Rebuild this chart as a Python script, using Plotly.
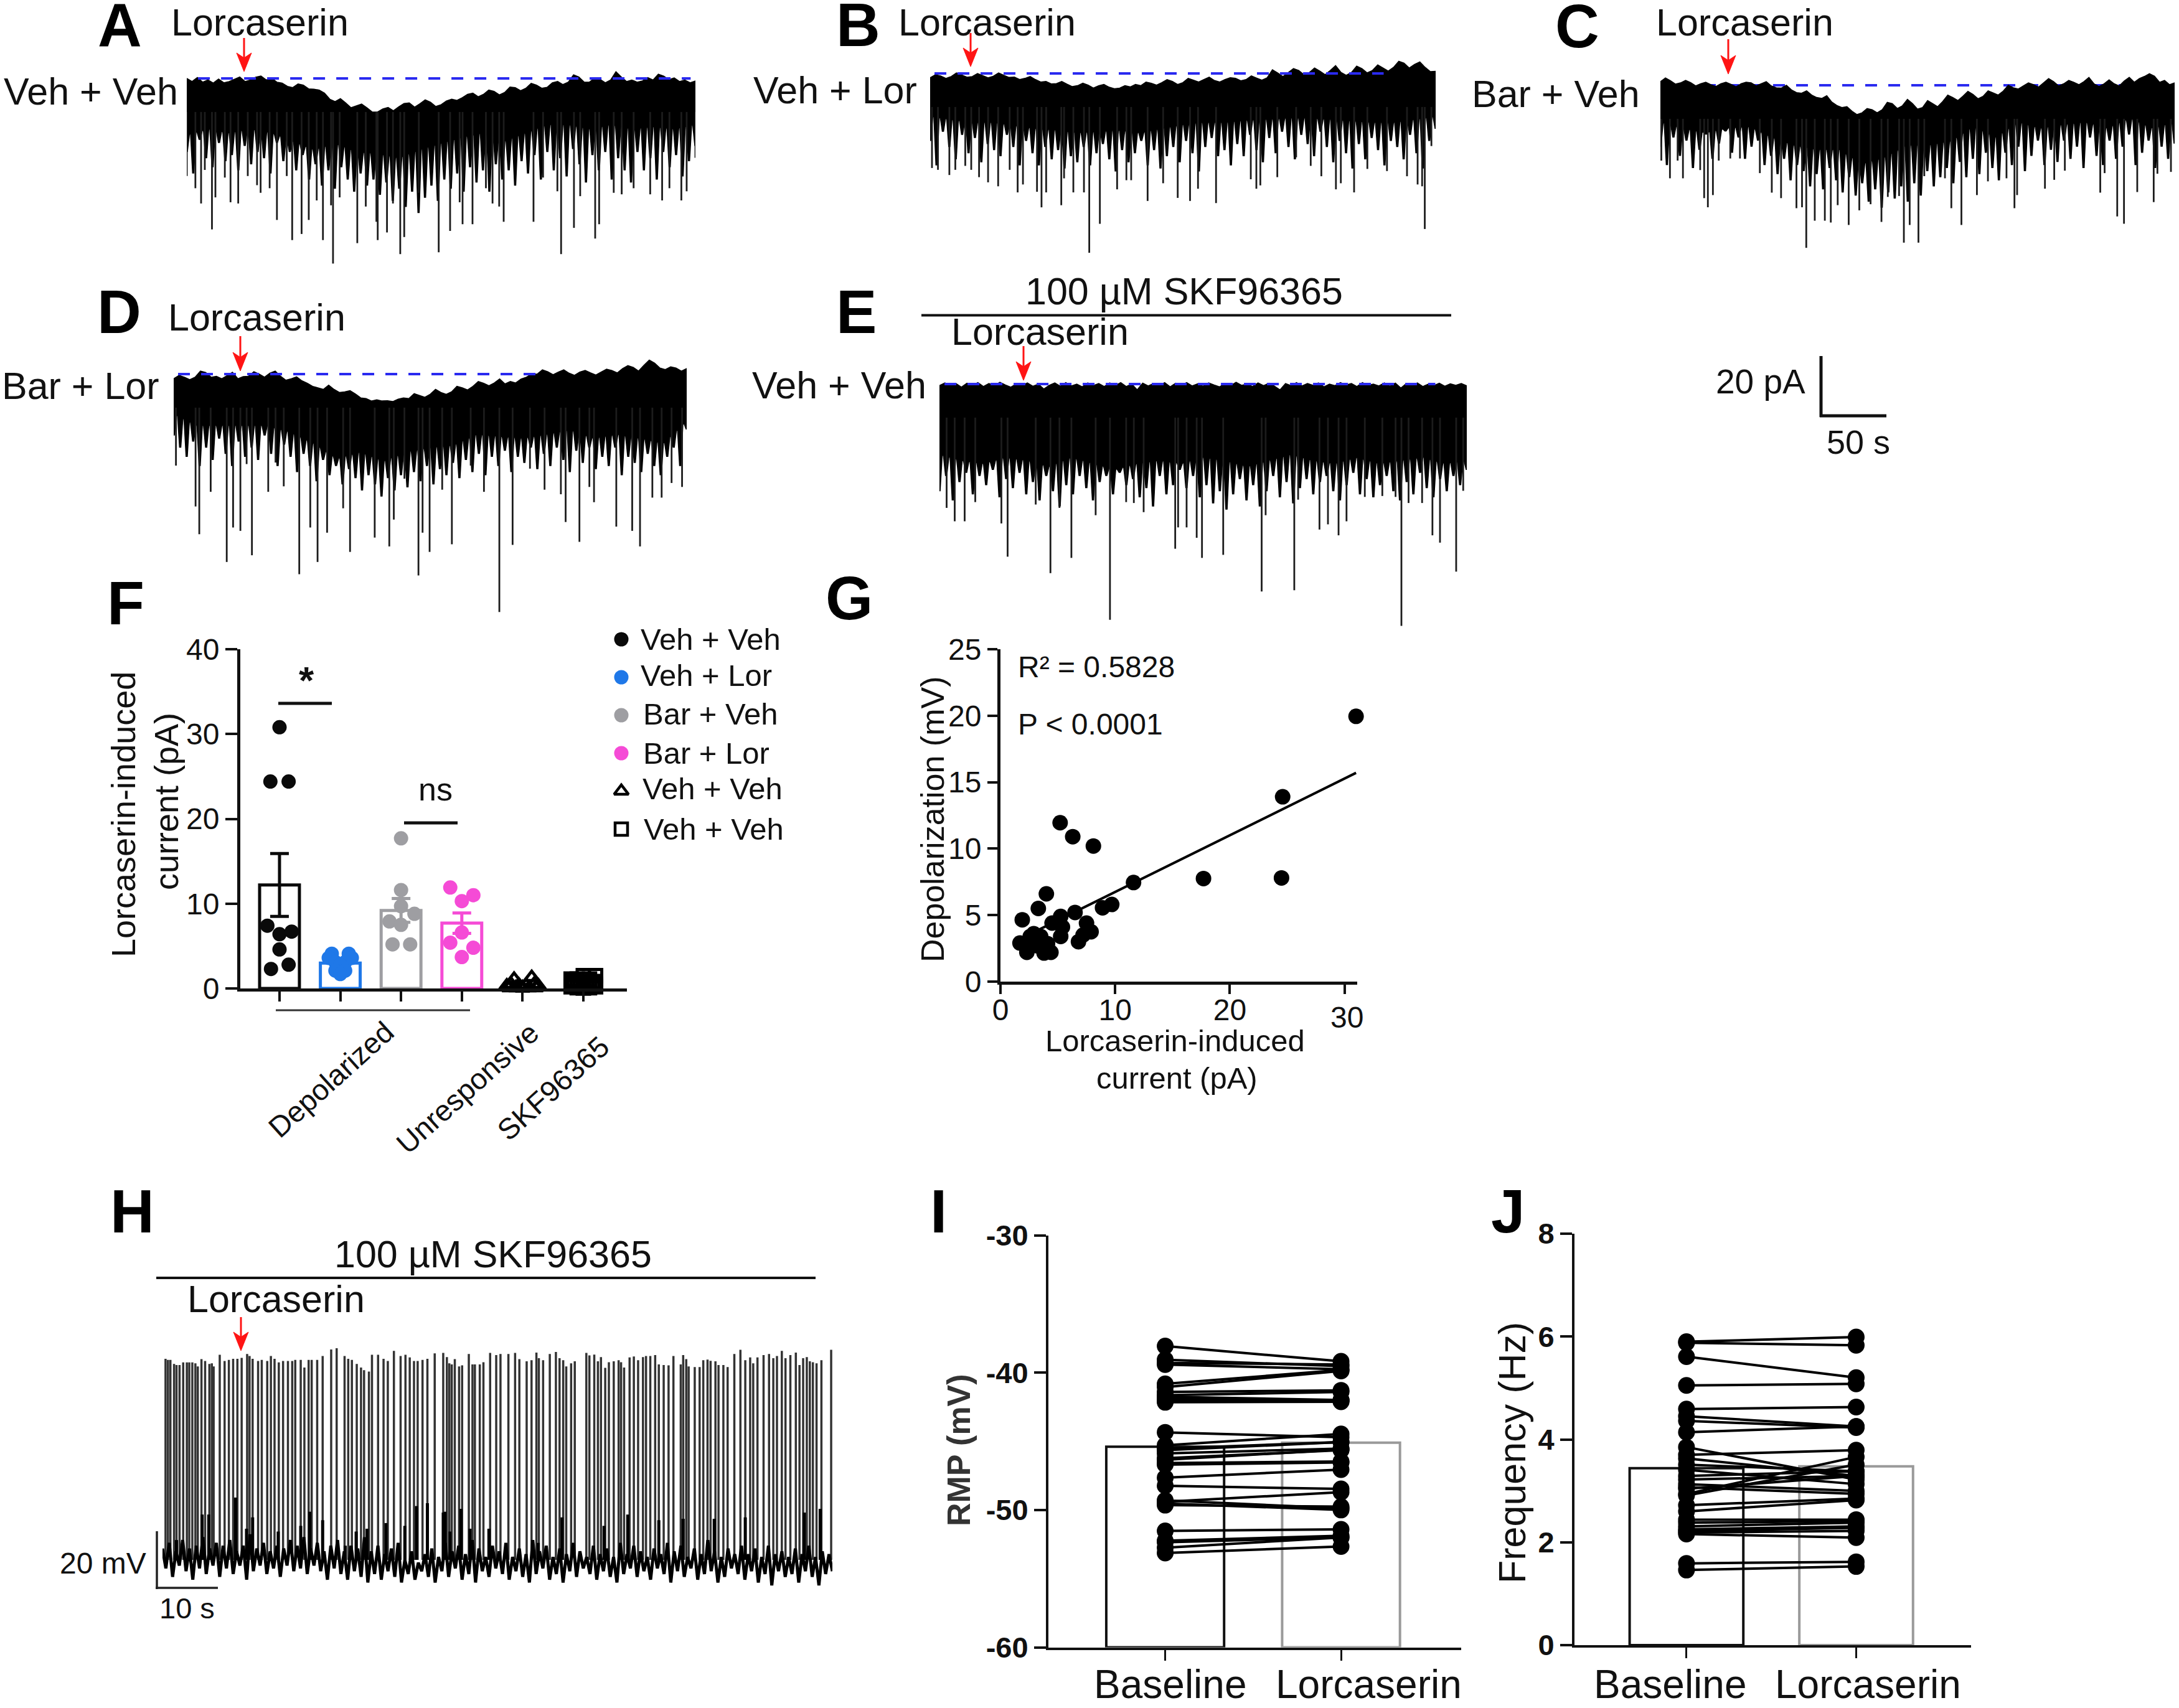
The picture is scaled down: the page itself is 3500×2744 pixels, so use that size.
import numpy as np
import plotly.graph_objects as go

W, H = 3500, 2744
FONT = "Liberation Sans, Arial, sans-serif"
BLACK = "#0a0a0a"
BLUE = "#1f78e8"
GRAY = "#9e9ea2"
PINK = "#f54bd6"
RED = "#ff1414"

# ---------- voltage-clamp traces: current in pA relative to the dashed baseline, time in s ----------
a_T = 383.6
a_upper = [0,-1,0.3,-1.2,-0.5,-1.5,-0.2,-1.4,-1,-0.2,0.5,-1,-0.5,0.4,0.8,-0.5,0.2,-1.2,-1.5,-2.6,-3,-1.8,-2.2,-3.4,-3.5,-3.8,-4.8,-6.8,-7.6,-6.6,-8,-9.6,-9,-8.4,-9.6,-11,-11,-10,-9.5,-10.6,-9.3,-8.2,-8,-9.4,-8.3,-7,-7.8,-9.2,-8.6,-7.4,-6.8,-7.2,-6.3,-5.2,-4.8,-6,-5.2,-3.8,-4.2,-5.4,-4.6,-2.8,-3,-4,-3.2,-1.6,-2.2,-3.2,-2.9,-1.4,-1,-2,-1.2,1.2,0.5,-1.2,-1.2,0.2,-0.3,-1.4,-0.5,2.2,0.5,-1,-0.5,-1.2,-0.8,0.3,-0.5,1.4,0.8,-0.4,0.2,-1,-0.5,-1.4,-0.8]
a_lower = [-18.5,-16.5,-17.8,-16.5,-17.8,-20.5,-23.3,-21.2,-24,-24.6,-26,-23.3,-21.2,-19.2,-17.8,-20.5,-17.8,-15.1,-15.1,-16.5,-15.1,-16.5,-15.8,-16.5,-15.1]
a_fringe = [-24,-31,-20,-26,-29,-21,-27,-25,-30,-22,-28,-24,-26,-31,-21,-27,-24,-30,-25,-33,-28,-35,-30,-36,-29,-33,-37,-31,-35,-33,-38,-34,-40,-36,-42,-37,-44,-39,-35,-40,-33,-36,-31,-37,-29,-34,-30,-37,-28,-33,-30,-35,-27,-31,-25,-33,-24,-30,-26,-32,-23,-28,-34,-25,-30,-24,-33,-26,-30,-34,-24,-30,-26,-33,-24,-29,-25,-32,-27,-22]
a_spike_t = [0,6.5,10.8,13.6,19,21.6,28.7,33,38.8,46,53,55.7,62.5,68,75.4,79.5,86.6,92,98,102.7,108.8,110.3,115.3,128.6,135,143,144,151,155.5,161,164,175,190,198.6,205.8,208,215.5,225.6,230.6,235.6,239,261.5,268.7,279.5,282.3,292,296.7,308,311,322,328,337,349.5,358.5,364,373,377,383.6]
a_spike_a = [-32,-36,-41,-30,-49.5,-39,-32.5,-40.6,-41,-32,-35,-37.5,-36,-46.4,-32,-53,-51,-46.4,-40,-53,-41.6,-60.7,-39,-54,-42,-47,-53,-50.5,-41,-57.6,-52,-37.5,-57,-50,-40.6,-47.8,-47.8,-36,-41,-42,-47,-47,-32.5,-37,-57.6,-49,-38.6,-52.5,-47.8,-37.5,-38,-36,-38,-40,-36,-40,-37,-26]

b_T = 381.2
b_upper = [-1.4,-0.4,-0.8,-1.6,-1,0.2,-0.5,-1.2,-1,0,-0.7,-1.4,-0.9,0.2,-0.6,-1.3,-1.2,-2,-1.6,-1,-2,-2.8,-2.6,-3.4,-3.3,-2.6,-3.5,-4.3,-4,-3.2,-3.8,-4.8,-4,-3.6,-4.5,-5,-4.8,-4,-4.4,-3.6,-4,-2.8,-3.2,-3.8,-3,-2,-2.6,-3.6,-3,-1.6,-2.2,-2.8,-2,-1.2,-2.3,-2.8,-2,-1.4,-1.6,-2.4,-2,-0.8,-1.5,-2.2,-1.4,1.2,0.2,-1,0.3,1.6,1,-0.4,0.3,1.8,0.8,-0.4,1,2.6,0.4,-0.6,0.3,2.4,1.6,0.2,1,2.8,1.8,0.8,2,4,3.4,1.8,3,3.8,2,0.6,0.7]
b_lower = [-14,-15,-16,-16,-17,-18,-18.5,-19.4,-19,-18.6,-19.4,-18,-16.7,-16,-16,-15.3,-15,-14.6,-14.6,-15,-15.5,-16,-16,-15,-14]
b_fringe = [-22,-30,-19,-24,-28,-20,-26,-21,-29,-23,-25,-27,-20,-24,-30,-22,-26,-30,-24,-28,-25,-31,-27,-29,-24,-30,-26,-23,-28,-32,-25,-29,-26,-22,-30,-25,-31,-27,-24,-29,-22,-26,-32,-24,-21,-27,-25,-30,-23,-27,-20,-25,-29,-21,-26,-19,-24,-28,-20,-23,-27,-19,-24,-29,-22,-26,-31,-23,-28,-21,-25,-30,-22,-24,-28,-20,-26,-31,-22,-18]
b_spike_t = [1.4,5.9,14.5,19,26.5,31,36.9,43.7,51.3,60,66,70,80.6,84,87.5,98.9,101,108,116,120,128,141,148,151.6,164,175.7,186.7,196,202,215.6,241.8,246,249,261.8,276,287,295,306,309.7,319.7,329.7,344.5,359.6,367.6,371,373,378]
b_spike_a = [-31,-31.6,-33.3,-31.6,-30.3,-31.6,-34,-35.7,-37,-31.6,-39,-36.4,-38.8,-43.9,-39,-43.2,-34.4,-39,-39,-58.8,-49.3,-38,-35,-35,-41.8,-36,-40.8,-41.8,-37.8,-42.5,-34.7,-37.8,-36.7,-34,-27.5,-30.3,-33.7,-38,-36,-39,-31.3,-32,-33.7,-36.4,-37,-51,-23.8]

c_T = 387.8
c_upper = [1.2,2.4,1.5,0.4,0.8,1.6,0.9,-0.2,0.5,1,0.2,-0.4,0.5,1,0.3,-0.5,0.5,1,0.8,-0.2,0.5,1.2,-0.2,-0.8,-0.9,0,-1.5,-2.4,-2.6,-1.8,-3.2,-4,-4.3,-3.4,-5.5,-6.6,-7.3,-7,-8.5,-9.6,-9,-7.6,-8,-9,-8,-5.6,-6,-7.6,-6.7,-4.6,-6,-7.8,-7.3,-5,-6,-7,-5.3,-3.2,-4,-5,-3.6,-2,-3,-4.4,-3.6,-1.8,-2.5,-3.2,-1.9,0,-0.8,-1.2,-0.2,0.8,0.2,-0.6,0.8,2.2,1.2,-0.2,0.5,1.6,1,0.2,1.2,2.6,0.5,-0.4,0.5,1.8,0.5,-0.2,1.4,2.6,1,2.2,2.9,3.8,3,1,1.6,0.2,0.8]
c_lower = [-12,-14,-15.5,-14,-13.5,-17,-19.6,-21,-21,-25.7,-23.7,-19.6,-19.6,-18.2,-13.5,-17,-12,-14,-12.8,-12,-14,-10.7,-14,-12]
c_fringe = [-20,-26,-17,-23,-18,-27,-21,-16,-24,-19,-15,-22,-17,-24,-20,-18,-26,-23,-29,-24,-31,-26,-28,-33,-29,-34,-27,-31,-35,-30,-36,-32,-38,-34,-40,-35,-37,-33,-38,-32,-36,-28,-33,-30,-27,-32,-25,-30,-24,-29,-22,-27,-31,-22,-26,-20,-28,-23,-18,-26,-21,-25,-18,-24,-20,-27,-17,-23,-26,-18,-24,-20,-16,-26,-22,-18,-27,-20,-24,-19]
c_spike_t = [0.7,7.2,13,17,30,33,35.8,39.6,44,52.7,60,75,84,91,102.6,106.8,110,116.4,124,128.5,133.7,142,150,158.5,166.7,171.5,180,183.6,188,194.6,199,214.6,219.4,227,238.7,247,261,267,269,290,297,305,331.7,335,344.5,349.6,359.6,372,374.8,385]
c_spike_a = [-24.7,-30.5,-24.7,-30.5,-27.8,-37,-40,-36,-24.7,-24,-24,-28.8,-35.2,-37,-40.3,-40,-53.3,-44.4,-44.4,-45,-39.3,-45.8,-41,-39,-44.8,-36.6,-36.3,-51.6,-45.8,-51.6,-29.8,-30.5,-40.3,-45.8,-36,-31.5,-30.5,-40.3,-36,-33.9,-31,-28,-35.2,-28.8,-43,-45.4,-35,-38.3,-29,-28.4]

d_T = 386.9
d_upper = [-1.5,-0.4,-1,-1.8,-1,1,0.5,-1,-0.7,-1.5,-0.5,0.6,-1.5,-0.8,-0.7,0.8,0,-1,0.3,1,-0.7,-2,-1.5,-0.9,-2.2,-3,-4,-4.5,-5,-3.6,-5,-6,-5.8,-5.4,-6.5,-7.8,-8,-8.8,-8.4,-8.8,-8.7,-9,-8.2,-7.8,-8,-6.4,-7,-7.6,-6.6,-5,-6,-6.6,-5.8,-4,-4.5,-5.2,-4,-2.4,-3,-3.8,-2.9,-1.6,-3.2,-2.4,-2.9,-1.6,-1,0,0,1.4,0.8,-0.2,0.7,1.4,0.3,-0.4,0.7,1.2,0.4,-0.3,0.7,1.6,1.2,0.4,1.8,2.8,2.2,1,2.9,4.6,3.6,2,1.5,2.4,2,1,1.8]
d_lower = [-13,-16.8,-16.8,-16.8,-16.8,-19,-22.6,-27.7,-25.5,-28.4,-25.5,-24,-23.3,-19.7,-20.4,-21,-19.7,-18.2,-21,-19.7,-21,-22.6,-15.3]
d_fringe = [-20,-24,-27,-22,-30,-24,-28,-21,-26,-30,-22,-27,-24,-28,-20,-26,-30,-23,-27,-32,-26,-30,-35,-28,-33,-30,-36,-31,-34,-38,-33,-36,-40,-34,-38,-33,-37,-32,-35,-30,-36,-31,-33,-29,-34,-28,-32,-26,-33,-27,-30,-25,-32,-27,-29,-24,-31,-26,-30,-24,-28,-32,-25,-29,-24,-31,-27,-30,-24,-33,-27,-29,-32,-26,-30,-33,-27,-24,-30,-18]
d_spike_t = [1.7,16.5,19.3,27.9,40,44.8,50.3,55,59,71.3,76.8,83,94.7,103,108.5,115.7,127.8,133,151.6,162.6,166,174,184.6,187.7,193,202.5,209.8,224,234,245.6,255.6,268.7,279.7,292,295.6,306,313.5,317,333.8,345.8,351.7,361,368,375.5,383.4]
d_spike_a = [-30,-43.4,-52.5,-38.6,-61.6,-50.3,-51.4,-29.5,-59.4,-38.6,-29,-36.8,-65.6,-50.3,-61.6,-52,-44,-58.3,-53.6,-56.5,-47.7,-34.3,-66,-52,-58.3,-37.9,-55.8,-30,-38.6,-78,-56,-31,-37.9,-39.4,-48.5,-55,-37,-42,-50,-51.4,-56.5,-40.5,-40.5,-35.7,-37]

e_T = 397.7
e_upper = [-0.5,0.4,-0.6,0.2,-1,0.3,-0.4,0.5,-0.8,0.2,-0.5,0.6,-0.3,-1,0.1,-0.6,0.4,-0.7,0,-1.6,-0.4,0.4,-0.7,0.5,-0.6,0,-0.9,0.4,-0.5,0.2,-0.8,0.4,-0.5,0.5,-0.8,0,-1.9,0.3,-0.6,0.2,-0.5,0.5,-0.9,0.3,-0.4,0.5,-0.6,0.1,-0.7,0.4,-0.3,-0.9,0.2,-0.5,0.6,-0.4,0,-0.8,0.4,-0.5,0.3,-0.7,-1.9,0.2,-0.5,0.5,-0.6,0.2,-0.4,0.4,-0.9,0,-0.5,0.5,-0.3,0.2,-0.8,0.5,-0.4,0,-0.6,0.4,-0.7,0.3,-1.3,0.2,-0.5,0.4,-0.8,0,-0.5,0.3,-0.7,0.1,-0.4,0.2,-0.6]
e_lower = [-23,-25,-26,-24,-25,-27,-24,-26,-28,-26,-25,-26,-24,-25,-27,-25,-23,-25,-26,-24,-26,-25,-24,-26,-25]
e_fringe = [-35,-30,-38,-32,-29,-36,-30,-33,-28,-37,-31,-34,-29,-36,-32,-38,-30,-35,-40,-33,-36,-30,-34,-38,-32,-30,-36,-29,-33,-31,-37,-34,-40,-30,-36,-33,-28,-34,-30,-37,-33,-39,-35,-41,-36,-31,-38,-33,-40,-35,-30,-37,-32,-39,-34,-31,-36,-32,-30,-35,-38,-33,-29,-36,-31,-37,-33,-30,-35,-38,-32,-36,-29,-34,-37,-31,-35,-30,-33,-28]
e_spike_t = [5.4,11.5,19,27,46.7,51.4,72.6,83.7,90.5,99.5,117.8,128.6,140.8,146.6,154,177.8,180,186.4,194,198,214,243,246,267.6,270.5,286.6,293,301,307,320.8,334,344,348.4,353.8,364,371.8,377.5,389.7,395]
e_spike_a = [-40.6,-45,-45,-38.7,-45.7,-56.6,-39.5,-62,-40.6,-57,-43,-77.3,-38.7,-39,-42,-54,-47,-47,-50.4,-57,-56,-68,-43,-67.6,-37.9,-47.7,-46,-49.6,-45,-37,-36.7,-37,-79.3,-39,-39,-49.6,-52,-61.5,-35]

# ---------- current-clamp trace H: mV relative to the resting band, time in s ----------
h_T = 110
h_upper = [4,6,3,7,4,5,8,4,6,5,7,3,5,9,4,6,3,5,4,7,5,8,4,6,3,5,7,3,5,4,8,3,5,2,4,6,0,3,-1,2,4,1,6,3,5,2,7,4,1,5,3,6,1,4,2,7,3,5,1,4,2,6,3,1,5,2,4,1,6,2,5,3,1,4,2,6,3,5,1,4,2,7,3,1,4,2,5,2,4,1,5,2,3,1,4,2,5,1,3,2]
h_lower = [-3,-6,-2,-4,-7,-3,-5,-2,-6,-3,-5,-2,-7,-4,-2,-5,-3,-6,-2,-4,-3,-5,-2,-4,-7,-3,-5,-7,-4,-6,-8,-5,-7,-4,-6,-8,-5,-7,-4,-6,-8,-4,-6,-3,-7,-5,-8,-4,-6,-3,-5,-7,-4,-6,-8,-5,-3,-7,-5,-8,-4,-6,-3,-5,-7,-4,-6,-8,-5,-3,-6,-4,-7,-3,-5,-8,-4,-6,-3,-7,-5,-4,-8,-6,-3,-5,-7,-4,-8,-5,-9,-4,-6,-5,-8,-4,-6,-9,-5,-4]
h_spike_t = [0.5,0.9,1.3,1.9,2.3,2.8,3.4,4,4.4,4.9,5.4,5.8,6.4,7,7.7,8.1,8.4,
 9.4,10.2,10.9,11.6,12.3,13,13.9,14.3,14.8,15.7,16.3,17.2,17.8,18.4,19.1,19.8,20.6,21.3,21.8,22.7,23.3,24,24.5,25.4,26.3,27.7,28.6,29.9,30.5,31.1,31.9,32.6,33.1,33.9,34.4,35.4,36.3,37,38,39.1,39.9,40.6,41.3,41.9,42.7,43.5,44.7,
 46.1,46.7,47.1,47.5,48,48.7,49.2,50.3,50.9,51.3,52.1,52.7,53.8,54.8,55.5,56.8,57.9,58.6,59.8,60.6,61.4,61.8,62.5,63.6,64.6,65.2,65.8,66.3,67.1,67.7,
 69.6,70.1,70.9,71.5,72,72.7,73.3,74.1,74.9,75.3,75.8,76.7,77.4,78.1,78.9,79.4,80.1,80.9,81.5,82.3,83.1,83.9,85.1,85.5,86,86.4,87.4,88.2,88.8,89.5,
 90,90.8,91.3,92.1,92.8,93.9,94.9,95.7,96.5,97,97.7,98.7,99.6,100.3,100.9,101.7,102.3,103.1,104,104.6,105.2,105.8,106.3,106.8,107.4,108.2,109.8]
h_spike_a = [71,70.6,70.6,69.2,68.8,68.8,69.7,69.7,69.7,69.7,69.4,68.3,70.9,70.2,69.2,69.4,68.3,
 72.4,70.2,70.6,71,71,71.3,72.7,72,71,70.2,70.6,70.2,72,71,69.7,70.2,70.2,70.2,70.6,70.6,67.9,70.6,70.6,70.6,72,74.3,74.7,72,71,70.6,69.2,67.9,67,66.5,72.4,72.4,71,70.2,73.8,72,72.4,71.5,70.2,70.2,70.6,71,72.9,
 73.1,71.6,69.4,69,70.9,68.3,68.7,72.7,69,69,69,69.8,73.1,72.3,72.7,72.7,73.1,70.9,70.1,70.5,73.2,71.2,70.5,72.7,73.4,71.2,70.5,68.3,69.4,70.1,
 73.1,72.2,72.5,70.1,71.6,67.8,69.8,70.1,70.5,69.8,67.9,71.5,71.8,70.5,71.6,72,72,72.3,69,68.8,68.7,72,69,72.3,70.9,68.3,68.1,68.1,70.5,70.7,
 70.3,70.1,68.8,68.8,68.1,72.7,74.2,70.5,71.5,69.4,71.5,72.3,72.7,71.2,72,73.8,71.2,72.3,73.2,68.8,71.2,71.6,70.1,69.8,69.4,70.5,74.2]
h_sub_t = [2.3,6.5,7.6,12,13.8,14.8,19,22.7,24.2,26.3,30,31.8,33.6,36.7,39.8,41.7,43.5,46.1,46.4,47.2,49,50.5,53.6,61.7,65.6,72.5,76.4,81.5,85.5,90.6,95.7,105.4,108]
h_sub_a = [7,16,16,22,11,15,10,12,17,14,5,10,11,13,12,19,20,16.7,17,10,18,11,11,6,15,12,16,14,14.5,14.5,15,16.7,18]

# ---------- F ----------
f_means = [12.2, 3.0, 9.2, 7.7]
f_sem = [3.7, 0.3, 1.4, 1.2]
f_colors = [BLACK, BLUE, GRAY, PINK]
f1_x = [1,0.85,1.15,0.8,1,1.2,1,1.15,0.86]
f1_y = [30.8,24.4,24.4,7.4,6.4,6.7,4.6,2.8,2.3]
f2_x = [1.86,2.14,1.81,2.19,1.92,2.08,2,1.92,2.08,2]
f2_y = [4.1,4.1,3.6,3.6,3.1,3.1,2.8,2.1,2.1,1.7]
f3_x = [3,3,3,3.22,2.81,3,2.86,3.15]
f3_y = [17.7,11.6,9.7,8.8,7.9,7.5,5.2,5.2]
f4_x = [3.81,4.19,4,4,3.81,4.19,4]
f4_y = [11.9,11,10.3,6.6,5.4,4.8,3.7]
f5_x = [4.86,5.15,4.74,5.26,5,4.89,5.11,4.81,5.19,5,4.78,5.22,4.94,5.06]
f5_y = [1.1,1.3,0.3,0.3,0.1,0.1,0.1,0.5,0.5,0.05,0.1,0.1,0.4,0.4]
f6_x = [5.8,6,6.2,5.8,6.2,5.9,6.1,6,5.8,6.2,6,5.9,6.1,5.85,6.15,5.95,6.05]
f6_y = [1.1,1.5,1.5,0.5,0.5,0.1,0.1,0.05,0.2,0.2,0.7,1.1,1.1,0.8,0.8,0.4,0.4]
legend_labels = ["Veh + Veh","Veh + Lor","Bar + Veh","Bar + Lor","Veh + Veh","Veh + Veh"]

# ---------- G ----------
g_x = [31,24.6,24.5,17.7,11.6,8.1,6.3,5.2,4,3.3,1.9,9.7,8.9,6.5,5.25,4.5,7.5,5.4,7.9,7.2,5.25,6.8,2.9,3.5,1.7,2.45,2.3,3.2,3.8,4.4,4.1,2.6]
g_y = [19.95,13.9,7.8,7.75,7.45,10.2,10.9,11.95,6.6,5.5,4.65,5.8,5.55,5.2,4.9,4.4,4.4,4.1,3.75,3.5,3.4,3,3.6,3.4,2.9,2.85,2.2,2.7,2.15,2.2,2.85,3.4]
g_fit_x = [1.7, 31]
g_fit_y = [3.2, 15.7]

# ---------- I ----------
i_means = [-45.4, -45.1]
i_base = [-38.07,-39.06,-39.3,-39.41,-41.06,-40.82,-41.41,-41.65,-41.76,-41.93,-42.07,-42.16,-44.35,-45.29,-45.53,-45.65,-45.88,-46.24,-46.35,-46.59,-46.7,-47.65,-48.24,-49.3,-49.41,-49.53,-49.65,-51.53,-52.24,-52.35,-52.75,-53.13]
i_lor = [-39.18,-39.53,-39.41,-39.76,-39.88,-39.81,-41.29,-41.41,-42,-42,-42.07,-42.12,-44.71,-44.47,-45.06,-45.06,-45.53,-45.65,-45.6,-46.47,-46.54,-47.06,-48.47,-49.88,-48.7,-50,-49.76,-51.41,-51.88,-52,-52,-52.66]
i_ticks = [-60, -50, -40, -30]
i_ticklabels = ["-60", "-50", "-40", "-30"]

# ---------- J ----------
j_means = [3.44, 3.476]
j_base = [5.9,5.88,5.61,5.05,4.59,4.45,4.36,4.14,3.85,3.7,3.63,3.51,3.41,3.29,3.22,3.13,3.07,3.04,2.94,2.91,2.72,2.6,2.44,2.38,2.31,2.25,2.22,2.19,2.16,1.59,1.46]
j_lor = [5.99,5.83,5.2,5.08,4.63,4.25,4.23,4.25,3.22,3.79,3.29,3.38,3.13,3.38,3.29,3,2.94,3.29,3.66,3.51,2.85,2.82,2.44,2.41,2.38,2.31,2.28,2.22,2.09,1.62,1.53]
j_ticks = [0, 2, 4, 6, 8]
j_ticklabels = ["0", "2", "4", "6", "8"]
pair_labels = ["Baseline", "Lorcaserin"]

fig = go.Figure()
layout_axes = {}
n_axes = 0


def new_axes(x0, x1, ytop, ybot, xr, yr, visible=False, **kw):
    """Create an x/y pair whose plotting area is given in page pixels."""
    global n_axes
    n_axes += 1
    n = n_axes
    sx = "" if n == 1 else str(n)
    xa = dict(domain=[x0 / W, x1 / W], range=xr, anchor="y" + sx, visible=visible, showgrid=False, zeroline=False, fixedrange=True)
    ya = dict(domain=[1 - ybot / H, 1 - ytop / H], range=yr, anchor="x" + sx, visible=visible, showgrid=False, zeroline=False, fixedrange=True)
    xa.update(kw.get("xkw", {}))
    ya.update(kw.get("ykw", {}))
    layout_axes["xaxis" + sx] = xa
    layout_axes["yaxis" + sx] = ya
    return "x" + sx, "y" + sx


PA = 4.9
TBLUE = "#2a2af0"


def voltage_trace(x0, x1, y0, T, upper, lower, fringe, st, sa, dash, dash_on_top=True):
    xa, ya = new_axes(x0, x1, y0 - 40, y0 + 400, [0, T], [-400 / PA, 40 / PA])
    tu = np.linspace(0, T, len(upper))
    tl = np.linspace(0, T, len(lower))
    base = dict(x=dash, y=[0, 0], mode="lines", line=dict(color=TBLUE, width=4, dash="19px,18px"), xaxis=xa, yaxis=ya, hoverinfo="skip")
    if not dash_on_top:
        fig.add_trace(go.Scatter(**base))
    # saw-tooth lower edge: each fringe value is the tip of one tooth hanging from the solid body
    tf = np.linspace(0, T, len(fringe))
    dt = tf[1] - tf[0]
    bx, by = [], []
    for t, a in zip(tf, fringe):
        t0 = max(t - dt * 0.42, 0)
        t1 = min(t + dt * 0.42, T)
        bx += [t0, t - dt * 0.1, t + dt * 0.1, t1]
        by += [float(np.interp(t0, tl, lower)), a, a, float(np.interp(t1, tl, lower))]
    fig.add_trace(go.Scatter(x=list(tu) + bx[::-1], y=list(upper) + by[::-1], fill="toself",
                             fillcolor="#000", mode="lines", line=dict(color="#000", width=1.5), xaxis=xa, yaxis=ya))
    sx, sy = [], []
    for t, a in zip(st, sa):
        sx += [t, t, None]
        sy += [-11, a, None]
    fig.add_trace(go.Scatter(x=sx, y=sy, mode="lines", line=dict(color="#1c1c1c", width=2.8), xaxis=xa, yaxis=ya))
    if dash_on_top:
        fig.add_trace(go.Scatter(**base))


voltage_trace(300, 1117, 126, a_T, a_upper, a_lower, a_fringe, a_spike_t, a_spike_a, [8.5, 380])
voltage_trace(1494, 2306, 118, b_T, b_upper, b_lower, b_fringe, b_spike_t, b_spike_a, [3.3, 342])
voltage_trace(2667, 3493, 137, c_T, c_upper, c_lower, c_fringe, c_spike_t, c_spike_a, [15.5, 359], dash_on_top=False)
voltage_trace(279, 1103, 601, d_T, d_upper, d_lower, d_fringe, d_spike_t, d_spike_a, [3.3, 274])
voltage_trace(1509, 2356, 617, e_T, e_upper, e_lower, e_fringe, e_spike_t, e_spike_a, [3.8, 374])

# H
MV = 4.55
xa, ya = new_axes(261, 1337, 2146, 2566, [0, h_T], [-60 / MV, 360 / MV])
sx, sy = [], []
for t, a in zip(h_spike_t, h_spike_a):
    sx += [t, t, None]
    sy += [0, a, None]
fig.add_trace(go.Scatter(x=sx, y=sy, mode="lines", line=dict(color="#333", width=3.5), xaxis=xa, yaxis=ya))
sx, sy = [], []
for t, a in zip(h_sub_t, h_sub_a):
    sx += [t, t, None]
    sy += [0, a, None]
fig.add_trace(go.Scatter(x=sx, y=sy, mode="lines", line=dict(color="#000", width=5), xaxis=xa, yaxis=ya))
tn = np.linspace(0, h_T, 2 * len(h_upper))
zig = [v for pair in zip(h_upper, h_lower) for v in pair]
fig.add_trace(go.Scatter(x=tn, y=zig, mode="lines", line=dict(color="#000", width=5), xaxis=xa, yaxis=ya))

AX = dict(visible=True, showline=True, linecolor="#111", ticks="outside", tickcolor="#111",
          tickfont=dict(family=FONT, size=48, color="#111"))

# F
xa, ya = new_axes(386, 1007, 1043, 1588, [0.355, 6.717], [0, 40],
                  xkw=dict(AX, linewidth=5, tickwidth=4, ticklen=16, tickmode="array", tickvals=[1, 2, 3, 4, 5, 6], showticklabels=False),
                  ykw=dict(AX, linewidth=5, tickwidth=4, ticklen=19, tickmode="array", tickvals=[0, 10, 20, 30, 40]))
for k, (m, s, c) in enumerate(zip(f_means, f_sem, f_colors)):
    fig.add_trace(go.Bar(x=[k + 1], y=[m], width=0.655, marker=dict(color="rgba(255,255,255,0)", line=dict(color=c, width=5)),
                         error_y=dict(type="data", array=[s], color=c, thickness=5, width=15), xaxis=xa, yaxis=ya))
for xs, ys, c in [(f1_x, f1_y, BLACK), (f2_x, f2_y, BLUE), (f3_x, f3_y, GRAY), (f4_x, f4_y, PINK)]:
    fig.add_trace(go.Scatter(x=xs, y=ys, mode="markers", marker=dict(color=c, size=23), cliponaxis=False, xaxis=xa, yaxis=ya))
fig.add_trace(go.Scatter(x=f5_x, y=f5_y, mode="markers", cliponaxis=False, xaxis=xa, yaxis=ya,
                         marker=dict(symbol="triangle-up-open", color="#000", size=20, line=dict(width=5, color="#000"))))
fig.add_trace(go.Scatter(x=f6_x, y=f6_y, mode="markers", cliponaxis=False, xaxis=xa, yaxis=ya,
                         marker=dict(symbol="square-open", color="#000", size=20, line=dict(width=5, color="#000"))))

# F legend markers on their own hidden axes (one row per entry)
xa, ya = new_axes(968, 1028, 1027, 1332, [-1, 1], [5, 0])
for i, (sym, c) in enumerate(zip(["circle", "circle", "circle", "circle", "triangle-up-open", "square-open"],
                                 [BLACK, BLUE, GRAY, PINK, "#000", "#000"])):
    fig.add_trace(go.Scatter(x=[0], y=[i], mode="markers", cliponaxis=False, xaxis=xa, yaxis=ya,
                             marker=dict(symbol=sym, color=c, size=23 if i < 4 else 20, line=dict(width=4.5 if i >= 4 else 0, color=c))))

# G
xa, ya = new_axes(1607, 2180, 1043, 1577, [0, 31.1], [0, 25],
                  xkw=dict(AX, linewidth=5, tickwidth=4, ticklen=15, ticklabelstandoff=-16, tickmode="array", tickvals=[0, 10, 20, 30], ticktext=["0", "10", "20", " "]),
                  ykw=dict(AX, linewidth=5, tickwidth=4, ticklen=16, tickmode="array", tickvals=[0, 5, 10, 15, 20, 25]))
fig.add_trace(go.Scatter(x=g_x, y=g_y, mode="markers", marker=dict(color="#000", size=25), cliponaxis=False, xaxis=xa, yaxis=ya))
fig.add_trace(go.Scatter(x=g_fit_x, y=g_fit_y, mode="lines", line=dict(color="#000", width=4), xaxis=xa, yaxis=ya))


def paired(x0, x1, ytop, ybot, xr, yr, tickvals, ticktext, means, base, lor, bar_base):
    bold = dict(family=FONT, size=47, color="#111", weight="bold")
    xa, ya = new_axes(x0, x1, ytop, ybot, xr, yr,
                      xkw=dict(AX, linewidth=4, tickwidth=3, ticklen=17, tickmode="array", tickvals=[0, 1], showticklabels=False),
                      ykw=dict(AX, linewidth=4, tickwidth=4, ticklen=19, tickmode="array", tickvals=tickvals, ticktext=ticktext, tickfont=bold))
    for k, (m, c) in enumerate(zip(means, ["#111", "#9a9a9a"])):
        fig.add_trace(go.Bar(x=[k], y=[m - bar_base], base=bar_base, width=0.67, marker=dict(color="rgba(255,255,255,0)", line=dict(color=c, width=4)), xaxis=xa, yaxis=ya))
    lx, ly = [], []
    for a, b in zip(base, lor):
        lx += [0, 1, None]
        ly += [a, b, None]
    fig.add_trace(go.Scatter(x=lx, y=ly, mode="lines+markers", line=dict(color="#000", width=4),
                             marker=dict(color="#000", size=27), cliponaxis=False, xaxis=xa, yaxis=ya))


paired(1684, 2347, 1984.5, 2646.5, [-0.664, 1.683], [-60, -30], i_ticks, i_ticklabels, i_means, i_base, i_lor, -60)
paired(2529, 3166, 1982, 2643, [-0.66, 1.677], [0, 8], j_ticks, j_ticklabels, j_means, j_base, j_lor, 0)

# ---------- text ----------
ann = []


def text(s, x, y, size=60, bold=False, angle=0, anchor="center", color="#111"):
    if bold:
        s = "<b>" + s + "</b>"
    ann.append(dict(text=s, x=x / W, y=1 - y / H, xref="paper", yref="paper", xanchor=anchor, yanchor="middle",
                    showarrow=False, textangle=angle, font=dict(family=FONT, size=size, color=color)))


for s, x, y in [("A", 192, 40), ("B", 1378, 40), ("C", 2533, 42), ("D", 191, 501), ("E", 1375, 501), ("F", 202, 969),
                ("G", 1364, 961), ("H", 212, 1946), ("I", 1507, 1946), ("J", 2422, 1946)]:
    text(s, x, y, size=98, bold=True, color="#000")
for x, y in [(417, 36), (1585, 36), (2802, 36), (412, 510), (1670, 533), (443, 2087)]:
    text("Lorcaserin", x, y, 61)
for s, x, y in [("Veh + Veh", 146, 147), ("Veh + Lor", 1341, 145), ("Bar + Veh", 2499, 151), ("Bar + Lor", 129, 620), ("Veh + Veh", 1348, 619)]:
    text(s, x, y, 61)
text("100 µM SKF96365", 1902, 468, 61)
text("100 µM SKF96365", 792, 2015, 61)
text("20 pA", 2828, 613, 55)
text("50 s", 2985, 710, 54)
text("20 mV", 165, 2511, 48)
text("10 s", 300, 2583, 47)

text("Lorcaserin-induced", 198, 1309, 54, angle=-90)
text("current (pA)", 267, 1288, 54, angle=-90)
text("*", 493, 1092, 62, bold=True)
text("ns", 699, 1268, 52)
for s, x, y in [("Depolarized", 531, 1734), ("Unresponsive", 750, 1748), ("SKF96365", 888, 1748)]:
    text(s, x, y, 47, angle=-42)
for lab, y, x in zip(legend_labels, [1027, 1085, 1147, 1210, 1267, 1332], [1027, 1027, 1031, 1031, 1030, 1032]):
    text(lab, x, y, 49, anchor="left")

text("R² = 0.5828", 1633, 1071, 48, anchor="left")
text("P < 0.0001", 1633, 1163, 48, anchor="left")
text("30", 2163, 1634, 48)
text("Lorcaserin-induced", 1887, 1672, 49)
text("current (pA)", 1890, 1732, 49)
text("Depolarization (mV)", 1498, 1316, 52, angle=-90)

text("RMP (mV)", 1540, 2330, 52, bold=True, angle=-90, color="#333")
text("Frequency (Hz)", 2429, 2334, 61, angle=-90)
for (lab, x) in zip(pair_labels, [1880, 2198]):
    text(lab, x, 2706, 64)
for (lab, x) in zip(pair_labels, [2683, 3000]):
    text(lab, x, 2706, 64)

# ---------- drawn annotations (arrows, bars) ----------
shapes = []


def seg(x0, y0, x1, y1, color="#111", width=4):
    shapes.append(dict(type="line", xref="paper", yref="paper", x0=x0 / W, x1=x1 / W, y0=1 - y0 / H, y1=1 - y1 / H,
                       line=dict(color=color, width=width)))


def arrow(x, y0, y1):
    seg(x, y0, x, y1 - 15, RED, 3)
    pts = [(x - 12, y1 - 30), (x, y1 - 22), (x + 12, y1 - 30), (x, y1)]
    path = "M" + " L".join(f"{a / W:.5f},{1 - b / H:.5f}" for a, b in pts) + " Z"
    shapes.append(dict(type="path", xref="paper", yref="paper", path=path, fillcolor=RED, line=dict(color=RED, width=1)))


for x, a, b in [(392, 61, 115), (1559, 53, 107), (2776, 63, 119), (386, 540, 596), (1644, 556, 611), (387, 2116, 2170)]:
    arrow(x, a, b)
seg(1480, 506.5, 2331, 506.5, "#111", 4)
seg(251, 2053, 1310, 2053, "#111", 4)
seg(2925, 572, 2925, 670, "#111", 5)
seg(2923, 668, 3030, 668, "#111", 5)
seg(252, 2460, 252, 2553, "#222", 3.5)
seg(250, 2551, 350, 2551, "#222", 3.5)
seg(447, 1130, 533, 1130, "#111", 5)
seg(649, 1322, 735, 1322, "#111", 5)
seg(443, 1623, 755, 1623, "#333", 3)

fig.update_layout(width=W, height=H, margin=dict(l=0, r=0, t=0, b=0, pad=0, autoexpand=False), autosize=False, showlegend=False,
                  paper_bgcolor="white", plot_bgcolor="rgba(0,0,0,0)", barmode="overlay", hovermode=False,
                  annotations=ann, shapes=shapes, font=dict(family=FONT), **layout_axes)
fig.write_html("out.html", post_script="document.body.style.margin='0';document.body.style.padding='0';",
               config=dict(displayModeBar=False))
